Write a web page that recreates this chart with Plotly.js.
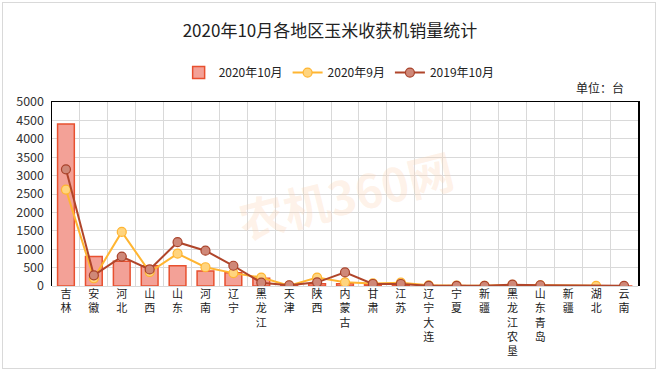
<!DOCTYPE html>
<html>
<head>
<meta charset="utf-8">
<script src="https://cdn.plot.ly/plotly-3.0.1.min.js"></script>
<style>
html,body{margin:0;padding:0;background:#fff;}
#wrap{position:relative;width:660px;height:374px;}
#chart{width:660px;height:374px;}
#frame{position:absolute;left:2px;top:2px;width:652px;height:365px;border:1.5px solid #d9d9d9;pointer-events:none;}
</style>
</head>
<body>
<div id="wrap"><div id="chart"></div><div id="frame"></div></div>
<script>
const categories = ['吉林','安徽','河北','山西','山东','河南','辽宁','黑龙江','天津','陕西','内蒙古','甘肃','江苏','辽宁大连','宁夏','新疆','黑龙江农垦','山东青岛','新疆','湖北','云南'];
const oct2020 = [4400, 800, 670, 550, 550, 410, 360, 210, 20, 60, 60, 40, 40, 10, 10, 5, 10, 10, 0, 0, 0];
const sep2020 = [2620, 210, 1470, 380, 880, 510, 350, 230, 10, 230, 100, 70, 90, 20, 10, 5, 30, 20, null, 5, null];
const oct2019 = [3170, 290, 800, 450, 1190, 960, 550, 90, 20, 100, 370, 55, 55, 5, 5, 5, 35, 20, null, null, 5];
const seriesNames = ['2020年10月','2020年9月','2019年10月'];
const yTicks = [0,500,1000,1500,2000,2500,3000,3500,4000,4500,5000];

const idx = categories.map((c,i)=>i);
const tickText = categories.map(c => c.split('').join('<br>'));
const bounds = categories.map((c,i)=>i-0.5).concat([categories.length-0.5]);

const FONT = '"Noto Sans CJK SC", "Noto Sans", sans-serif';

const traces = [
  {type:'bar', x:idx, y:oct2020, name:seriesNames[0], width:0.6,
   marker:{color:'#f3a197', line:{color:'#e8502f', width:1.5}}},
  {type:'scatter', mode:'lines+markers', x:idx, y:sep2020, name:seriesNames[1], connectgaps:true,
   line:{color:'#ffb531', width:2},
   marker:{size:9, color:'#ffd47e', line:{color:'#ffb531', width:1.2}}},
  {type:'scatter', mode:'lines+markers', x:idx, y:oct2019, name:seriesNames[2], connectgaps:true,
   line:{color:'#b0452a', width:2},
   marker:{size:9, color:'#cf8878', line:{color:'#a9432b', width:1.2}}}
];

const range = [-0.5, categories.length-0.5];

const layout = {
  width:660, height:374,
  margin:{l:52, r:22, t:102, b:88},
  paper_bgcolor:'#fff', plot_bgcolor:'#fff',
  font:{family:FONT, color:'#333', size:12},
  title:{text:'2020年10月各地区玉米收获机销量统计', x:0.5, xanchor:'center', y:0.918, yanchor:'middle',
         font:{family:FONT, size:17, color:'#222'}},
  showlegend:true,
  legend:{orientation:'h', x:0.49, xanchor:'center', y:1.16, yanchor:'middle',
          font:{family:FONT, size:12, color:'#222'}, itemwidth:30, traceorder:'normal'},
  bargap:0.4,
  xaxis:{range:range, tickmode:'array', tickvals:idx, ticktext:tickText, tickangle:0,
         showgrid:false, zeroline:false, showline:false, ticks:'',
         tickfont:{family:FONT, size:11, color:'#222'}, fixedrange:true},
  xaxis2:{overlaying:'x', side:'top', range:range, tickmode:'array', tickvals:bounds,
          showticklabels:false, ticks:'', showgrid:true, gridcolor:'#d9d9d9', gridwidth:1,
          showline:true, linecolor:'#000', linewidth:1.5, zeroline:false},
  yaxis:{range:[0,5000], tickmode:'array', tickvals:yTicks, showgrid:true, gridcolor:'#d9d9d9', gridwidth:1,
         showline:true, linecolor:'#000', linewidth:1.5, mirror:true, zeroline:true, zerolinecolor:'#d9d9d9',
         ticks:'', tickfont:{family:FONT, size:12.5, color:'#333'}, ticklabelstandoff:4},
  annotations:[
    {text:'单位：台', xref:'paper', yref:'paper', x:0.935, y:1.08, showarrow:false,
     font:{family:FONT, size:12, color:'#222'}, xanchor:'center', yanchor:'middle'},
    {text:'<b>农机360网</b>', xref:'paper', yref:'paper', x:0.5, y:0.5, showarrow:false,
     textangle:-14, font:{family:FONT, size:46, color:'rgba(252,212,180,0.3)'}, xanchor:'center', yanchor:'middle'}
  ]
};

// dummy trace to make xaxis2 render
traces.push({type:'scatter', x:[0], y:[null], xaxis:'x2', showlegend:false, hoverinfo:'skip'});

Plotly.newPlot('chart', traces, layout, {displayModeBar:false, staticPlot:true});
</script>
</body>
</html>
